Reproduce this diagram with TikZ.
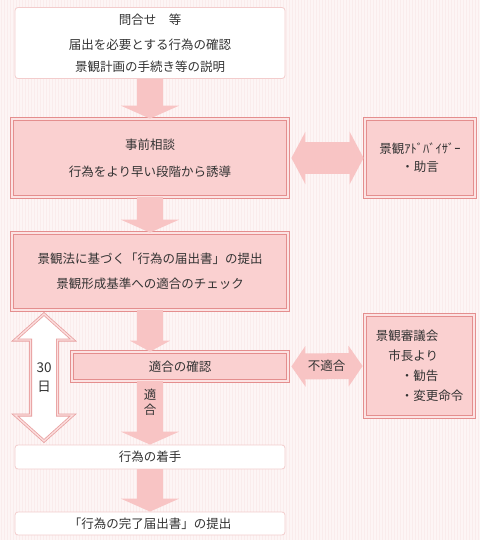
\documentclass[tikz,border=0pt]{standalone}
\usepackage{fontspec}
\setmainfont{Noto Sans CJK JP}
\usetikzlibrary{arrows.meta}
\definecolor{bgpink}{RGB}{253,245,245}
\definecolor{stripepink}{RGB}{250,236,236}
\definecolor{boxpink}{RGB}{250,208,208}
\definecolor{edgepink}{RGB}{228,142,142}
\definecolor{arrowpink}{RGB}{248,196,196}
\definecolor{textgray}{RGB}{51,51,51}

\tikzset{
  lbl/.style={font=\fontsize{12.5}{22}\selectfont, text=textgray, inner sep=0pt},
  whitebox/.style={lbl, draw=edgepink!45, line width=0.8pt, fill=white, rounded corners=3pt, align=center},
  pinkbox/.style={lbl, draw=edgepink, line width=0.8pt, double=boxpink!60!white, double distance=1.6pt, fill=boxpink, align=center},
  flow/.style={arrowpink, line width=26pt, -{Triangle[length=13pt,width=58pt]}},
  dflow/.style={arrowpink, line width=32pt, {Triangle[length=14pt,width=52pt]}-{Triangle[length=14pt,width=52pt]}, shorten <=3pt, shorten >=1pt},
  nflow/.style={arrowpink, line width=26pt, {Triangle[length=14pt,width=40pt]}-{Triangle[length=14pt,width=40pt]}, shorten <=3pt, shorten >=2pt},
  dayarrow/.style={draw=edgepink!85, line width=0.8pt, double=boxpink!70!white, double distance=1.4pt, fill=white, line join=miter},
}

\begin{document}
\begin{tikzpicture}[x=1pt, y=-1pt]
    % Background
    \useasboundingbox (0,0) rectangle (480,540);
    \fill[bgpink] (0,0) rectangle (480,540);
    \foreach \sx in {1,4,...,479}
        \draw[stripepink, line width=1pt] (\sx,0) -- (\sx,540);

    % Main flow
    \node[whitebox, minimum width=270pt, minimum height=71pt] (query) at (150,43)
        {問合せ　等\\[3pt]届出を必要とする行為の確認\\景観計画の手続き等の説明};
    \node[pinkbox, minimum width=276pt, minimum height=78pt] (consult) at (150,158)
        {事前相談\\[5pt]行為をより早い段階から誘導};
    \node[pinkbox, minimum width=276pt, minimum height=77pt] (notice) at (150,271.5)
        {景観法に基づく「行為の届出書」の提出\\[3pt]景観形成基準への適合のチェック};
    \node[pinkbox, minimum width=216pt, minimum height=29pt] (check) at (180,366.5) {適合の確認};
    \node[whitebox, minimum width=270pt, minimum height=24pt] (start) at (150,457) {行為の着手};
    \node[whitebox, minimum width=270pt, minimum height=23pt] (done) at (150,523.5) {「行為の完了届出書」の提出};

    % Side boxes
    \node[pinkbox, minimum width=110pt, minimum height=78pt] (adviser) at (420,158)
        {景観ｱﾄﾞﾊﾞｲｻﾞｰ\\[-4pt]・助言};
    \node[pinkbox, align=left, minimum width=109pt, minimum height=102pt] (council) at (419.5,366)
        {景観審議会\\[-2pt]\hspace*{1em}市長より\\[-2pt]\hspace*{2em}・勧告\\[-2pt]\hspace*{2em}・変更命令};

    % Arrows
    \draw[flow] (query.south) -- (consult.north);
    \draw[flow] (consult.south) -- (notice.north);
    \draw[flow, -{Triangle[length=11pt,width=40pt]}] (notice.south) -- (notice.south |- check.north);
    \draw[flow] (notice.south |- check.south) -- node[lbl, pos=0.33, align=center] {適\\[-7pt]合} (start.north);
    \draw[flow] (start.south) -- (done.north);
    \draw[dflow] (consult.east) -- (adviser.west);
    \draw[nflow] (check.east) -- node[lbl] {不適合} (council.west);

    % 30 days
    \draw[dayarrow] (44,314) -- (73,340) -- (57.5,340) -- (57.5,415) -- (73,415) -- (44,441)
        -- (15,415) -- (30.5,415) -- (30.5,340) -- (15,340) -- cycle;
    \node[lbl, align=center, font=\fontsize{13.5}{22}\selectfont] (days) at (44,377.5) {30\\[-3pt]日};
\end{tikzpicture}
\end{document}
